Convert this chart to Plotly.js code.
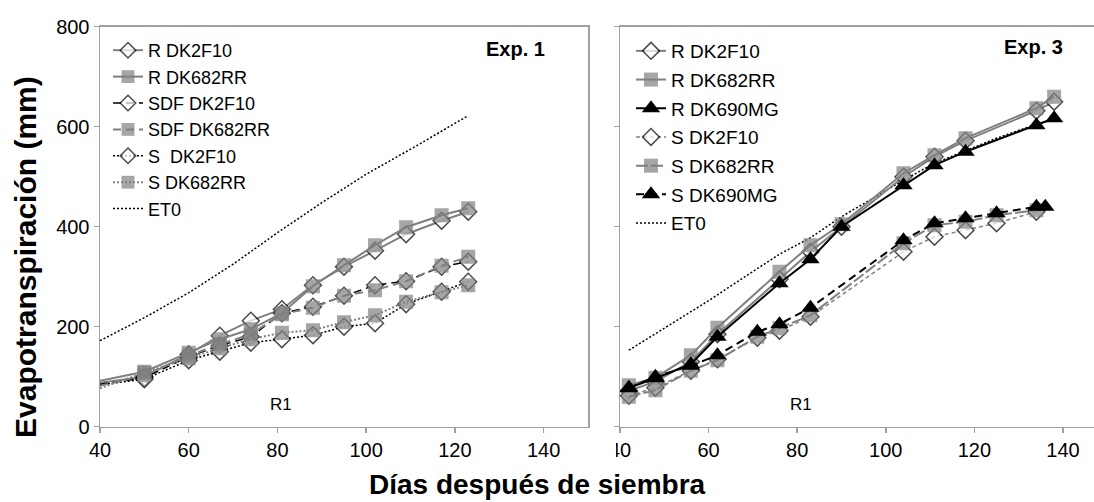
<!DOCTYPE html>
<html>
<head>
<meta charset="utf-8">
<script src="https://cdn.plot.ly/plotly-3.0.1.min.js"></script>
<style>html,body{margin:0;padding:0;background:#fff}#chart{width:1094px;height:502px}</style>
</head>
<body>
<div id="chart"></div>
<script>
// ---------- Exp. 1 (left panel) ----------
const exp1Days = [40, 50, 60, 67, 74, 81, 88, 95, 102, 109, 117, 123];
const exp1_R_DK2F10   = [88, 100, 145, 182, 212, 235, 283, 320, 352, 385, 412, 430];
const exp1_R_DK682RR  = [92, 110, 148, 175, 195, 227, 281, 323, 363, 399, 423, 437];
const exp1_SDF_DK2F10 = [85, 98, 140, 162, 180, 227, 240, 262, 283, 291, 320, 330];
const exp1_SDF_DK682RR= [82, 103, 142, 165, 185, 225, 238, 262, 273, 291, 322, 340];
const exp1_S_DK2F10   = [84, 95, 133, 150, 168, 175, 183, 200, 207, 245, 270, 290];
const exp1_S_DK682RR  = [77, 108, 137, 157, 175, 188, 193, 209, 223, 250, 269, 283];
const exp1EtDays = [40, 50, 60, 70, 80, 90, 100, 110, 123];
const exp1_ET0   = [172, 218, 268, 325, 388, 448, 505, 555, 622];

// ---------- Exp. 3 (right panel) ----------
const exp3RDays = [42, 48, 56, 62, 76, 83, 90, 104, 111, 118, 134, 138];
const exp3_R_DK2F10  = [72, 90, 130, 185, 295, 350, 400, 500, 540, 572, 632, 650];
const exp3_R_DK682RR = [83, 98, 143, 198, 310, 363, 405, 507, 543, 577, 637, 660];
const exp3_R_DK690MG = [78, 97, 125, 180, 287, 335, 400, 483, 523, 550, 603, 617];
const exp3SDays = [42, 48, 56, 62, 71, 76, 83, 104, 111, 118, 125, 134];
const exp3_S_DK2F10  = [62, 78, 112, 135, 178, 192, 220, 350, 380, 393, 407, 430];
const exp3_S_DK682RR = [60, 73, 112, 133, 180, 197, 223, 367, 403, 410, 423, 433];
const exp3S690Days = [42, 48, 56, 62, 71, 76, 83, 104, 111, 118, 125, 134, 136];
const exp3_S_DK690MG = [77, 100, 122, 143, 190, 205, 238, 373, 407, 417, 427, 440, 440];
const exp3EtDays = [42, 50, 60, 67, 76, 83, 90, 104, 111, 118, 125, 134, 138];
const exp3_ET0   = [153, 197, 252, 293, 345, 378, 420, 493, 527, 552, 577, 605, 615];

const FONT = 'Liberation Sans, Arial, sans-serif';
const GRAY = '#808080';
const AX = '#a0a0a0';

const diamond = (days) => ({symbol: 'diamond', size: days.map(d => d > 40 ? 13 : 0), color: '#ffffff', line: {color: '#000', width: 1.5}});
const square  = (days) => ({symbol: 'square', size: days.map(d => d > 40 ? 14 : 0), color: GRAY, line: {width: 0}});
const tri     = () => ({symbol: 'triangle-up', size: 16, color: '#000', line: {width: 0}});

function tr(name, x, y, line, marker, axis, legend, rank) {
  const t = {type: 'scatter', mode: marker ? 'lines+markers' : 'lines', name: name, x: x, y: y,
    line: line, xaxis: axis[0], yaxis: axis[1], legend: legend, legendrank: rank, cliponaxis: true};
  if (legend === 'legend2') t.legendgroup = 'g' + rank;
  if (marker) t.marker = marker;
  return t;
}
const L = ['x', 'y'], R = ['x2', 'y2'];

const data = [
  tr('ET0', exp1EtDays, exp1_ET0, {color: '#000', width: 1.5, dash: '2px,2px'}, null, L, 'legend', 7),
  tr('R DK2F10', exp1Days, exp1_R_DK2F10, {color: GRAY, width: 2}, diamond(exp1Days), L, 'legend', 1),
  tr('SDF DK2F10', exp1Days, exp1_SDF_DK2F10, {color: '#000', width: 1.5, dash: '8px,5px'}, diamond(exp1Days), L, 'legend', 3),
  tr('S  DK2F10', exp1Days, exp1_S_DK2F10, {color: '#000', width: 1.5, dash: '2px,2px'}, diamond(exp1Days), L, 'legend', 5),
  tr('R DK682RR', exp1Days, exp1_R_DK682RR, {color: GRAY, width: 2}, square(exp1Days), L, 'legend', 2),
  tr('SDF DK682RR', exp1Days, exp1_SDF_DK682RR, {color: GRAY, width: 2, dash: '8px,5px'}, square(exp1Days), L, 'legend', 4),
  tr('S DK682RR', exp1Days, exp1_S_DK682RR, {color: GRAY, width: 2, dash: '2px,2px'}, square(exp1Days), L, 'legend', 6),

  tr('ET0', exp3EtDays, exp3_ET0, {color: '#000', width: 1.5, dash: '2px,2px'}, null, R, 'legend2', 7),
  tr('R DK2F10', exp3RDays, exp3_R_DK2F10, {color: GRAY, width: 2}, diamond(exp3RDays), R, 'legend2', 1),
  tr('S DK2F10', exp3SDays, exp3_S_DK2F10, {color: GRAY, width: 1.5, dash: '4px,3px'}, diamond(exp3SDays), R, 'legend2', 4),
  tr('R DK682RR', exp3RDays, exp3_R_DK682RR, {color: GRAY, width: 2}, square(exp3RDays), R, 'legend2', 2),
  tr('S DK682RR', exp3SDays, exp3_S_DK682RR, {color: GRAY, width: 2, dash: '12px,3px'}, square(exp3SDays), R, 'legend2', 5),
  tr('R DK690MG', exp3RDays, exp3_R_DK690MG, {color: '#000', width: 2}, tri(), R, 'legend2', 3),
  tr('S DK690MG', exp3S690Days, exp3_S_DK690MG, {color: '#000', width: 2, dash: '8px,5px'}, tri(), R, 'legend2', 6)
];

const W = 1094, H = 502;
const px = v => v / W, py = v => 1 - v / H;

function ax(extra) {
  return Object.assign({showgrid: false, zeroline: false, showline: true, linecolor: AX, linewidth: 1.5,
    ticks: 'outside', ticklen: 5, tickwidth: 1.5, tickcolor: AX,
    tickfont: {family: FONT, size: 20, color: '#000'}}, extra);
}

const layout = {
  width: W, height: H,
  margin: {l: 0, r: 0, t: 0, b: 0},
  paper_bgcolor: '#fff', plot_bgcolor: '#fff',
  font: {family: FONT, color: '#000', size: 20},
  xaxis: ax({domain: [px(100), px(588)], range: [40, 150], dtick: 20, tick0: 40, mirror: true, anchor: 'y'}),
  yaxis: ax({domain: [py(426.7), py(26.7)], range: [0, 800], dtick: 200, mirror: true, anchor: 'x'}),
  xaxis2: ax({domain: [px(620), 1], range: [40, 147], dtick: 20, tick0: 40, mirror: true, anchor: 'y2'}),
  yaxis2: ax({domain: [py(426.7), py(26.7)], range: [0, 800], dtick: 200, showticklabels: false, anchor: 'x2'}),
  showlegend: true,
  legend: {x: px(108), y: py(32), xanchor: 'left', yanchor: 'top', bgcolor: 'rgba(0,0,0,0)',
    font: {family: FONT, size: 18, color: '#000'}, itemwidth: 30, tracegroupgap: 0},
  legend2: {x: px(631), y: py(32), xanchor: 'left', yanchor: 'top', bgcolor: 'rgba(0,0,0,0)',
    font: {family: FONT, size: 19, color: '#000'}, itemwidth: 30, tracegroupgap: 1},
  annotations: [
    {text: '<b>Exp. 1</b>', xref: 'paper', yref: 'paper', x: px(484), y: py(49), xanchor: 'left', yanchor: 'middle', showarrow: false, font: {family: FONT, size: 20}},
    {text: '<b>Exp. 3</b>', xref: 'paper', yref: 'paper', x: px(1002), y: py(47), xanchor: 'left', yanchor: 'middle', showarrow: false, font: {family: FONT, size: 20}},
    {text: 'R1', xref: 'x', yref: 'y', x: 80.7, y: 45, xanchor: 'center', yanchor: 'middle', showarrow: false, font: {family: FONT, size: 17}},
    {text: 'R1', xref: 'x2', yref: 'y2', x: 80.9, y: 45, xanchor: 'center', yanchor: 'middle', showarrow: false, font: {family: FONT, size: 17}},
    {text: '<b>Evapotranspiración (mm)</b>', xref: 'paper', yref: 'paper', x: px(25), y: py(257), xanchor: 'center', yanchor: 'middle', textangle: -90, showarrow: false, font: {family: FONT, size: 30}},
    {text: '<b>Días después de siembra</b>', xref: 'paper', yref: 'paper', x: px(537), y: py(484), xanchor: 'center', yanchor: 'middle', showarrow: false, font: {family: FONT, size: 28}}
  ],
  shapes: [
    {type: 'rect', xref: 'paper', yref: 'paper', x0: px(596), x1: px(616), y0: py(468), y1: py(440), fillcolor: '#fff', line: {width: 0}, layer: 'above'}
  ]
};

Plotly.newPlot('chart', data, layout, {staticPlot: true});
</script>
</body>
</html>
